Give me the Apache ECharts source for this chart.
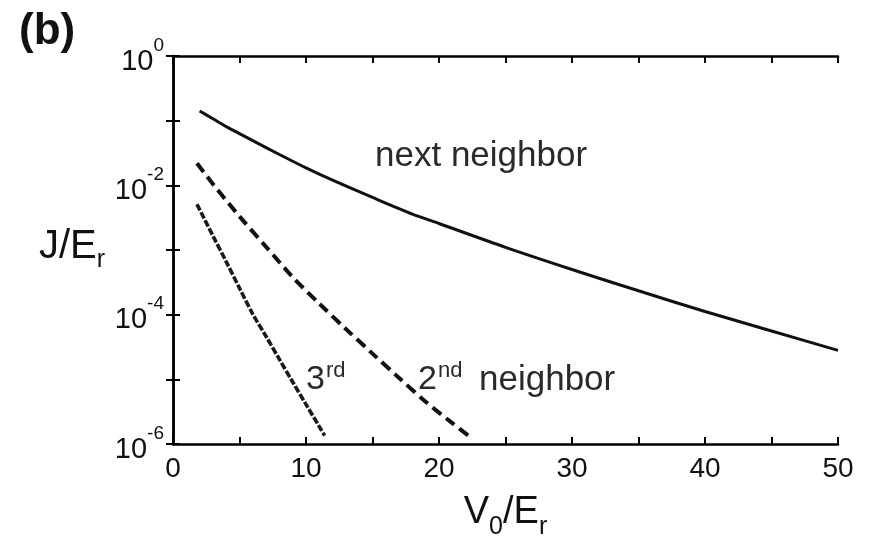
<!DOCTYPE html>
<html>
<head>
<meta charset="utf-8">
<script src="https://cdn.jsdelivr.net/npm/echarts@6/dist/echarts.min.js"></script>
<style>
html,body{margin:0;padding:0;background:#fff;}
#chart{width:871px;height:545px;}
</style>
</head>
<body>
<div id="chart"></div>
<script>
// ---- data ----
const vNext = [2, 3, 4, 5, 6, 8, 10, 12, 15, 18, 20, 25, 30, 35, 40, 45, 50];
const jNext = [1.41e-1, 1.07e-1, 8.1e-2, 6.3e-2, 4.9e-2, 3.0e-2, 1.86e-2, 1.20e-2, 6.5e-3, 3.6e-3, 2.57e-3, 1.10e-3, 5.0e-4, 2.34e-4, 1.12e-4, 5.6e-5, 2.8e-5];

const v2nd = [1.8, 3, 5, 7, 9, 11, 13, 15, 17, 19, 21, 22.4];
const j2nd = [2.19e-2, 1.05e-2, 3.31e-3, 1.12e-3, 3.8e-4, 1.48e-4, 6.0e-5, 2.5e-5, 1.05e-5, 4.5e-6, 2.1e-6, 1.26e-6];

const v3rd = [1.8, 3, 4, 5, 6, 7, 8, 9, 10, 11, 11.4];
const j3rd = [5.1e-3, 1.66e-3, 6.6e-4, 2.57e-4, 1.02e-4, 4.6e-5, 2.04e-5, 9.1e-6, 4.1e-6, 1.86e-6, 1.35e-6];

const xTickLabels = ['0', '10', '20', '30', '40', '50'];
const yTickExponents = ['0', '-2', '-4', '-6'];

function pairs(xs, ys) { return xs.map((x, i) => [x, ys[i]]); }

const FONT = 'Liberation Sans, Arial, Helvetica, sans-serif';
const INK = '#111';

const chart = echarts.init(document.getElementById('chart'), null, {renderer: 'canvas'});

const axisLineStyle = {lineStyle: {color: '#000', width: 2.5}};
const tickStyle = {show: true, inside: true, length: 7, lineStyle: {color: '#000', width: 2}};

const option = {
  backgroundColor: '#fff',
  animation: false,
  grid: {left: 173, right: 33, top: 56, bottom: 101, show: false},
  xAxis: [
    {
      type: 'value', min: 0, max: 50, interval: 5, position: 'bottom',
      axisLine: axisLineStyle, axisTick: tickStyle, splitLine: {show: false},
      axisLabel: {
        margin: 11, color: INK, fontFamily: FONT, fontSize: 28,
        formatter: function (v) {
          const s = String(Math.round(v));
          return xTickLabels.indexOf(s) >= 0 ? s : '';
        }
      },
      name: '{a|V}{s|0}{a|/E}{s|r}',
      nameLocation: 'middle', nameGap: 50,
      nameTextStyle: {
        color: INK, fontFamily: FONT,
        rich: {
          a: {fontSize: 38, fontFamily: FONT, color: INK, lineHeight: 46, verticalAlign: 'top'},
          s: {fontSize: 25, fontFamily: FONT, color: INK, lineHeight: 22, verticalAlign: 'bottom'}
        }
      }
    },
    {
      type: 'value', min: 0, max: 50, interval: 5, position: 'top',
      axisLine: axisLineStyle, axisTick: tickStyle, axisLabel: {show: false}, splitLine: {show: false}
    }
  ],
  yAxis: [
    {
      type: 'log', logBase: 10, min: 1e-6, max: 1, interval: 1, position: 'left',
      axisLine: axisLineStyle, axisTick: tickStyle, splitLine: {show: false}, minorTick: {show: false},
      axisLabel: {
        margin: 9, color: INK, fontFamily: FONT,
        formatter: function (v) {
          const e = String(Math.round(Math.log10(v)));
          return yTickExponents.indexOf(e) >= 0 ? '{b|10}{s|' + e + '}' : '';
        },
        rich: {
          b: {fontSize: 29, fontFamily: FONT, color: INK, lineHeight: 40, verticalAlign: 'bottom'},
          s: {fontSize: 19, fontFamily: FONT, color: INK, lineHeight: 16, verticalAlign: 'top'}
        }
      },
      name: '{a|J/E}{s|r}',
      nameLocation: 'middle', nameRotate: 0, nameGap: 68,
      nameTextStyle: {
        color: INK, fontFamily: FONT, align: 'right',
        rich: {
          a: {fontSize: 40, fontFamily: FONT, color: INK, lineHeight: 46, verticalAlign: 'top'},
          s: {fontSize: 25, fontFamily: FONT, color: INK, lineHeight: 22, verticalAlign: 'bottom'}
        }
      }
    },
    {
      type: 'log', logBase: 10, min: 1e-6, max: 1, interval: 1, position: 'right',
      axisLine: axisLineStyle, axisTick: tickStyle, axisLabel: {show: false}, splitLine: {show: false}
    }
  ],
  series: [
    {
      name: 'next neighbor', type: 'line', xAxisIndex: 0, yAxisIndex: 0,
      data: pairs(vNext, jNext), showSymbol: false, smooth: 0.3,
      lineStyle: {color: '#111', width: 3, type: 'solid'}
    },
    {
      name: '2nd neighbor', type: 'line', xAxisIndex: 0, yAxisIndex: 0,
      data: pairs(v2nd, j2nd), showSymbol: false, smooth: 0.3,
      lineStyle: {color: '#111', width: 4, type: [11, 6]}
    },
    {
      name: '3rd neighbor', type: 'line', xAxisIndex: 0, yAxisIndex: 0,
      data: pairs(v3rd, j3rd), showSymbol: false, smooth: 0.3,
      lineStyle: {color: '#1a1a1a', width: 3.6, type: [7, 2]}
    }
  ],
  graphic: [
    {type: 'text', left: 19, top: 10, style: {text: '(b)', font: 'bold 44px ' + FONT, fill: '#111'}},
    {type: 'text', left: 375, top: 139, style: {text: 'next neighbor', font: '35px ' + FONT, fill: '#2a2a2a'}},
    {type: 'text', left: 306, top: 363, style: {text: '3', font: '34px ' + FONT, fill: '#2a2a2a'}},
    {type: 'text', left: 326, top: 360, style: {text: 'rd', font: '22px ' + FONT, fill: '#2a2a2a'}},
    {type: 'text', left: 418, top: 363, style: {text: '2', font: '34px ' + FONT, fill: '#2a2a2a'}},
    {type: 'text', left: 438, top: 360, style: {text: 'nd', font: '22px ' + FONT, fill: '#2a2a2a'}},
    {type: 'text', left: 479, top: 363, style: {text: 'neighbor', font: '35px ' + FONT, fill: '#2a2a2a'}}
  ]
};
chart.setOption(option);
</script>
</body>
</html>
